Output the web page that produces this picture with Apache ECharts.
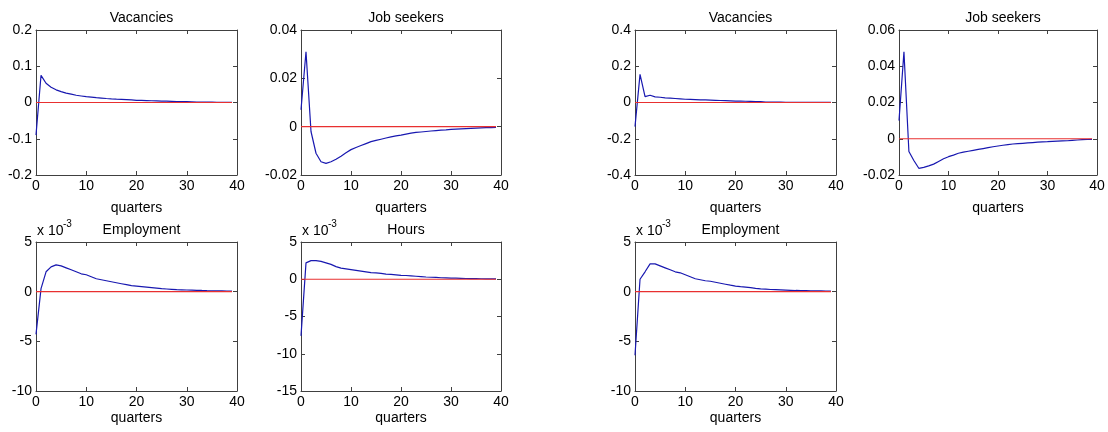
<!DOCTYPE html>
<html>
<head>
<meta charset="utf-8">
<script src="https://cdn.jsdelivr.net/npm/echarts@6/dist/echarts.min.js"></script>
<style>
html,body{margin:0;padding:0;background:#fff;}
#c{width:1108px;height:432px;}
</style>
</head>
<body>
<div id="c"></div>
<script>
// quarters 0..39
const quarters = Array.from({length: 40}, (_, i) => i);
const xTicks = [0, 10, 20, 30, 40];

// Left block
const vacanciesA = [-0.090, 0.075, 0.053, 0.042, 0.035, 0.030, 0.026, 0.023, 0.020, 0.018,
  0.016, 0.0148, 0.0135, 0.0123, 0.0111, 0.0100, 0.0092, 0.0085, 0.0078, 0.0070,
  0.0060, 0.0056, 0.0052, 0.0048, 0.0044, 0.0040, 0.0036, 0.0032, 0.0028, 0.0025,
  0.0022, 0.0019, 0.0012, 0.0010, 0.0009, 0.0008, 0.0007, 0.0006, 0.0005, 0.0004];
const jobSeekersA = [0.007, 0.031, -0.002, -0.011, -0.0145, -0.0152, -0.0145, -0.0135, -0.0122, -0.0108,
  -0.0095, -0.0086, -0.0078, -0.0070, -0.0062, -0.0057, -0.0052, -0.0047, -0.0042, -0.0038,
  -0.0035, -0.0031, -0.0027, -0.0024, -0.0022, -0.0020, -0.0018, -0.0016, -0.0014, -0.0013,
  -0.0011, -0.0010, -0.0009, -0.0008, -0.0007, -0.0006, -0.0005, -0.0004, -0.0004, -0.0003];
const employmentA = [-0.0043, 0.0003, 0.0020, 0.0025, 0.0027, 0.0026, 0.0024, 0.0022, 0.0020, 0.0018,
  0.0017, 0.0015, 0.0013, 0.0012, 0.0011, 0.0010, 0.0009, 0.0008, 0.0007, 0.0006,
  0.00055, 0.0005, 0.00045, 0.0004, 0.00035, 0.0003, 0.00027, 0.00024, 0.00021, 0.00019,
  0.00017, 0.00015, 0.00013, 0.00012, 0.0001, 0.00009, 0.00008, 0.00007, 0.00006, 0.00005];
const hoursA = [-0.0076, 0.0022, 0.0025, 0.0025, 0.0024, 0.0022, 0.0020, 0.0017, 0.0015, 0.0014,
  0.0013, 0.0012, 0.0011, 0.0010, 0.0009, 0.00085, 0.0008, 0.0007, 0.00065, 0.0006,
  0.00053, 0.0005, 0.00045, 0.0004, 0.00035, 0.0003, 0.00027, 0.00024, 0.0002, 0.00018,
  0.00016, 0.00014, 0.00012, 0.0001, 0.00009, 0.00008, 0.00007, 0.00006, 0.00005, 0.00005];

// Right block
const vacanciesB = [-0.133, 0.155, 0.032, 0.040, 0.031, 0.029, 0.026, 0.024, 0.022, 0.020,
  0.018, 0.017, 0.016, 0.015, 0.014, 0.013, 0.012, 0.011, 0.010, 0.009,
  0.008, 0.0074, 0.0068, 0.0062, 0.0056, 0.0050, 0.0022, 0.0020, 0.0018, 0.0016,
  0.0014, 0.0012, 0.0011, 0.0010, 0.0009, 0.0008, 0.0007, 0.0006, 0.0005, 0.0004];
const jobSeekersB = [0.010, 0.048, -0.007, -0.012, -0.0163, -0.0158, -0.0150, -0.0140, -0.0125, -0.0110,
  -0.0099, -0.0090, -0.0080, -0.0074, -0.0069, -0.0064, -0.0059, -0.0054, -0.0049, -0.0044,
  -0.0040, -0.0036, -0.0032, -0.0029, -0.0027, -0.0025, -0.0023, -0.0021, -0.0019, -0.0017,
  -0.0016, -0.0014, -0.0013, -0.0012, -0.0011, -0.0009, -0.0007, -0.0005, -0.0004, -0.0003];
const employmentB = [-0.0064, 0.00125, 0.0020, 0.0028, 0.0028, 0.0026, 0.0024, 0.0022, 0.0020, 0.0019,
  0.0017, 0.0015, 0.0013, 0.0012, 0.0011, 0.00105, 0.00095, 0.00085, 0.00075, 0.00065,
  0.00056, 0.0005, 0.00045, 0.0004, 0.00033, 0.00028, 0.00025, 0.00022, 0.0002, 0.00018,
  0.00016, 0.00014, 0.00012, 0.00011, 0.0001, 0.00009, 0.00008, 0.00007, 0.00006, 0.00005];

const zeroLine = [0, 0];
const zeroRange = [0, 39];

// panel layout (px)
const panels = [
  {title: 'Vacancies',   data: vacanciesA,  y: [-0.2, 0.2, 0.1],    box: [36, 30, 201, 145], scale: 1},
  {title: 'Job seekers', data: jobSeekersA, y: [-0.02, 0.04, 0.02], box: [301, 30, 200, 145], scale: 1},
  {title: 'Vacancies',   data: vacanciesB,  y: [-0.4, 0.4, 0.2],    box: [635, 30, 201, 145], scale: 1},
  {title: 'Job seekers', data: jobSeekersB, y: [-0.02, 0.06, 0.02], box: [899, 30, 198, 145], scale: 1},
  {title: 'Employment',  data: employmentA, y: [-0.01, 0.005, 0.005], box: [36, 242, 201, 149], scale: 1000},
  {title: 'Hours',       data: hoursA,      y: [-0.015, 0.005, 0.005], box: [301, 242, 200, 149], scale: 1000},
  {title: 'Employment',  data: employmentB, y: [-0.01, 0.005, 0.005], box: [635, 242, 201, 149], scale: 1000}
];

const FONT = 'Liberation Sans, Arial, Helvetica, sans-serif';
const FS = 14;
const AX = '#404040';

const grid = [], xAxis = [], yAxis = [], series = [], title = [], graphic = [];
panels.forEach((p, i) => {
  const [l, t, w, h] = p.box;
  const top = t < 100;
  grid.push({left: l, top: t, width: w, height: h, containLabel: false});
  const tick = {show: true, inside: true, length: 4, lineStyle: {color: AX}};
  const line = {show: true, onZero: false, lineStyle: {color: AX, width: 1}};
  xAxis.push({gridIndex: i, type: 'value', min: xTicks[0], max: xTicks[xTicks.length - 1], interval: 10,
    position: 'bottom', axisLine: line, axisTick: tick, splitLine: {show: false},
    axisLabel: {color: '#000', fontFamily: FONT, fontSize: FS, margin: 4},
    name: 'quarters', nameLocation: 'middle', nameGap: top ? 26 : 20,
    nameTextStyle: {color: '#000', fontFamily: FONT, fontSize: FS}});
  xAxis.push({gridIndex: i, type: 'value', min: 0, max: 40, interval: 10, position: 'top',
    axisLine: line, axisTick: tick, axisLabel: {show: false}, splitLine: {show: false}});
  yAxis.push({gridIndex: i, type: 'value', min: p.y[0], max: p.y[1], interval: p.y[2], position: 'left',
    axisLine: line, axisTick: tick, splitLine: {show: false},
    axisLabel: {color: '#000', fontFamily: FONT, fontSize: FS, margin: 4,
      formatter: v => {
        const r = Math.round(v * p.scale * 1000) / 1000;
        return String(r);
      }}});
  yAxis.push({gridIndex: i, type: 'value', min: p.y[0], max: p.y[1], interval: p.y[2], position: 'right',
    axisLine: line, axisTick: tick, axisLabel: {show: false}, splitLine: {show: false}});
  series.push({type: 'line', xAxisIndex: 2 * i, yAxisIndex: 2 * i, showSymbol: false, symbol: 'none',
    data: p.data.map((v, k) => [quarters[k], v]),
    lineStyle: {color: '#1818b0', width: 1.2}, z: 2, animation: false, silent: true});
  series.push({type: 'line', xAxisIndex: 2 * i, yAxisIndex: 2 * i, showSymbol: false, symbol: 'none',
    data: zeroRange.map((x, k) => [x, zeroLine[k]]),
    lineStyle: {color: '#e83030', width: 1.2}, z: 3, animation: false, silent: true});
  title.push({text: p.title, left: l + w / 2, top: t - 24, textAlign: 'center',
    textStyle: {color: '#000', fontFamily: FONT, fontSize: FS, fontWeight: 'normal'}});
  if (p.scale === 1000) {
    graphic.push({type: 'text', left: l + 1, top: t - 18,
      style: {text: 'x 10', fill: '#000', font: FS + 'px ' + FONT}});
    graphic.push({type: 'text', left: l + 27, top: t - 23,
      style: {text: '-3', fill: '#000', font: '10px ' + FONT}});
  }
});

const chart = echarts.init(document.getElementById('c'), null, {renderer: 'canvas'});
chart.setOption({
  backgroundColor: '#fff',
  animation: false,
  title, grid, xAxis, yAxis, series, graphic
});
</script>
</body>
</html>
